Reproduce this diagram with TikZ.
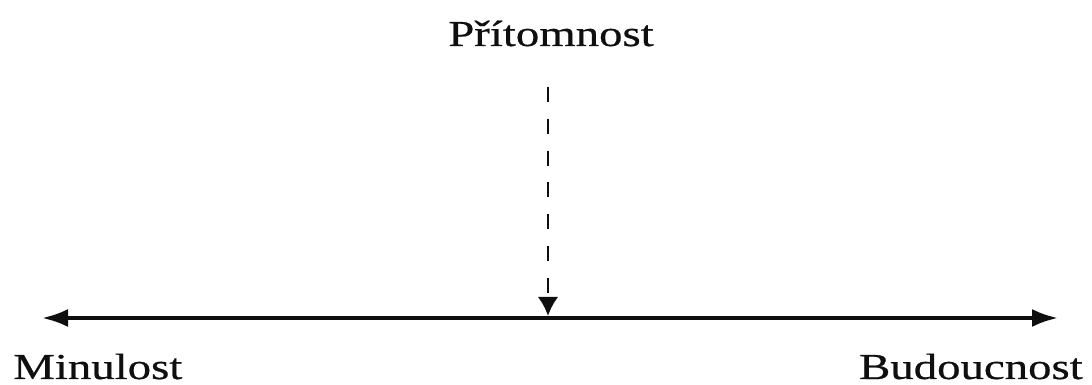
\documentclass[tikz,border=0pt]{standalone}
\usepackage{fontspec}
\setmainfont{Liberation Serif}
\newfontfamily\sirokyfont[FakeStretch=1.28,FakeBold=0.6]{Liberation Serif}
\usetikzlibrary{arrows.meta,positioning}
\definecolor{ink}{RGB}{15,15,15}
\tikzset{
  >={Latex[length=0.65cm,width=0.45cm]},
  osa/.style={<->,draw=ink,line width=2.6pt},
  ted/.style={->,draw=ink,line width=2.1pt,dash pattern=on 0.375cm off 0.42cm,
    >={Latex[length=0.48cm,width=0.52cm]}},
  popis/.style={font=\sirokyfont\fontsize{26}{31}\selectfont,text=ink,inner sep=0pt},
}
\begin{document}
\begin{tikzpicture}[x=0.025cm,y=-0.025cm]
  \useasboundingbox (0,0) rectangle (1092,385);
  % time axis
  \coordinate (minulo) at (42,318);
  \coordinate (budouci) at (1058,318);
  \coordinate (nyni) at (548,316);
  \coordinate (shora) at (548,87);
  \draw[osa] (minulo) -- (budouci);
  \draw[ted] (shora) -- (nyni);
  % labels
  \node[popis,anchor=base] (pritomnost) at (551,46) {Přítomnost};
  \node[popis,anchor=base west] (minulost) at (13,379) {Minulost};
  \node[popis,anchor=base east] (budoucnost) at (1083,379) {Budoucnost};
\end{tikzpicture}
\end{document}
